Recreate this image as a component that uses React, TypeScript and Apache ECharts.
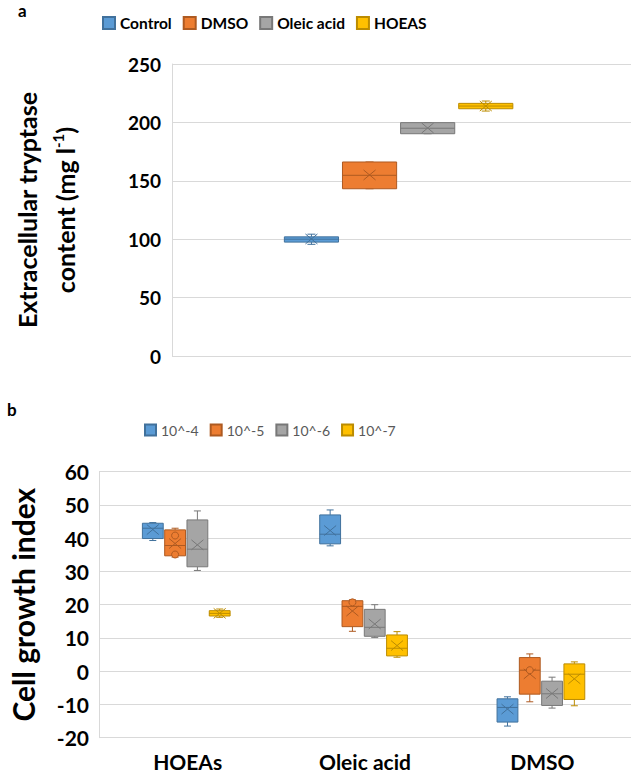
import React, { useEffect, useRef } from 'react';
import * as echarts from 'echarts';

// ---------- data ----------
// panel a: one box per treatment, [min, Q1, median, Q3, max, mean]
const treatmentNames = ['Control', 'DMSO', 'Oleic acid', 'HOEAS'];
const controlBox = [95.6, 97.5, 100.0, 102.0, 104.3, 100.2];
const dmsoBox = [143.2, 143.2, 154.7, 166.1, 166.1, 155.0];
const oleicBox = [190.3, 190.3, 195.0, 199.8, 199.8, 195.2];
const hoeasBox = [209.7, 211.7, 214.0, 216.3, 218.3, 214.0];
const tryptaseTicks = [0, 50, 100, 150, 200, 250];

// panel b: one series per concentration, one box per compound
const compoundCategories = ['HOEAs', 'Oleic acid', 'DMSO'];
const concentrationNames = ['10^-4', '10^-5', '10^-6', '10^-7'];
const conc4Boxes = [
  [39.3, 39.9, 43.0, 44.5, 44.7, 42.6],
  [37.7, 38.3, 41.2, 47.0, 48.5, 42.3],
  [-16.5, -15.3, -10.9, -8.3, -7.7, -11.4],
];
const conc5Boxes = [
  [34.3, 34.7, 37.8, 42.5, 43.0, 38.4],
  [12.0, 13.4, 19.5, 21.2, 21.5, 18.1],
  [-9.2, -6.9, 0.3, 4.1, 5.2, -0.8],
];
const conc6Boxes = [
  [30.3, 31.4, 36.7, 45.5, 48.2, 38.0],
  [10.1, 10.5, 13.2, 18.6, 20.0, 14.2],
  [-11.1, -10.3, -6.8, -3.0, -1.8, -6.7],
];
const conc7Boxes = [
  [16.2, 16.6, 17.4, 18.2, 18.7, 17.4],
  [4.2, 4.6, 6.9, 10.9, 11.9, 7.7],
  [-10.4, -8.5, -0.9, 2.2, 2.8, -2.3],
];
const conc5Points = [[40.8, 35.1], [20.7], [0.3]];
const noPoints = [[], [], []];
const growthTicks = [-20, -10, 0, 10, 20, 30, 40, 50, 60];

// ---------- styles ----------
const fills = ['#5B9BD5', '#ED7D31', '#A5A5A5', '#FFC000'];
const strokes = ['#41719C', '#AE5A21', '#787878', '#BC8C00'];
const FONT = 'Lato';

type Cfg = { step: number; width: number; shift: number; cap: number };
const cfgA: Cfg = { step: 0.1266, width: 0.118, shift: -0.0063, cap: 8 };
const cfgB: Cfg = { step: 0.1257, width: 0.1175, shift: -0.008, cap: 7 };

function makeRender(k: number, cfg: Cfg, pts: number[][]) {
  return (params: any, api: any) => {
    const cat = api.value(0);
    const band = api.size([1, 0])[0];
    const base = api.coord([cat, 0])[0];
    const cx = base + band * (cfg.shift + (k - 1.5) * cfg.step);
    const w = band * cfg.width;
    const y = (v: number) => api.coord([cat, v])[1];
    const yMin = y(api.value(1));
    const yQ1 = y(api.value(2));
    const yMed = y(api.value(3));
    const yQ3 = y(api.value(4));
    const yMax = y(api.value(5));
    const yMean = y(api.value(6));
    const stroke = strokes[k];
    const fill = fills[k];
    const ls = { stroke, lineWidth: 1, fill: 'none' };
    const hc = cfg.cap / 2;
    const children: any[] = [
      { type: 'line', shape: { x1: cx, y1: yMax, x2: cx, y2: yQ3 }, style: ls },
      { type: 'line', shape: { x1: cx - hc, y1: yMax, x2: cx + hc, y2: yMax }, style: ls },
      { type: 'line', shape: { x1: cx, y1: yMin, x2: cx, y2: yQ1 }, style: ls },
      { type: 'line', shape: { x1: cx - hc, y1: yMin, x2: cx + hc, y2: yMin }, style: ls },
      {
        type: 'rect',
        shape: { x: cx - w / 2, y: yQ3, width: w, height: yQ1 - yQ3 },
        style: { fill, stroke, lineWidth: 1 },
      },
      { type: 'line', shape: { x1: cx - w / 2, y1: yMed, x2: cx + w / 2, y2: yMed }, style: ls },
      { type: 'line', shape: { x1: cx - 6, y1: yMean - 5, x2: cx + 6, y2: yMean + 5 }, style: ls },
      { type: 'line', shape: { x1: cx - 6, y1: yMean + 5, x2: cx + 6, y2: yMean - 5 }, style: ls },
    ];
    (pts[params.dataIndex] || []).forEach((p) => {
      children.push({
        type: 'circle',
        shape: { cx, cy: y(p), r: 3.5 },
        style: { fill, stroke, lineWidth: 1 },
      });
    });
    return { type: 'group', children };
  };
}

export default function App() {
  const ref = useRef<HTMLDivElement>(null);
  useEffect(() => {
    document.body.style.margin = '0';
    const chart = echarts.init(ref.current!, null, { renderer: 'svg' });

    const topBoxes = [controlBox, dmsoBox, oleicBox, hoeasBox];
    const bottomBoxes = [conc4Boxes, conc5Boxes, conc6Boxes, conc7Boxes];
    const bottomPts = [noPoints, conc5Points, noPoints, noPoints];

    const topSeries = treatmentNames.map((name, k) => ({
      type: 'custom',
      name,
      xAxisIndex: 0,
      yAxisIndex: 0,
      itemStyle: { color: fills[k], borderColor: strokes[k], borderWidth: 1 },
      encode: { x: 0, y: [1, 2, 3, 4, 5] },
      data: [[0, ...topBoxes[k]]],
      renderItem: makeRender(k, cfgA, [[]]),
    }));
    const bottomSeries = concentrationNames.map((name, k) => ({
      type: 'custom',
      name,
      xAxisIndex: 1,
      yAxisIndex: 1,
      itemStyle: { color: fills[k], borderColor: strokes[k], borderWidth: 1 },
      encode: { x: 0, y: [1, 2, 3, 4, 5] },
      data: bottomBoxes[k].map((b, i) => [i, ...b]),
      renderItem: makeRender(k, cfgB, bottomPts[k]),
    }));

    const gridLine = { show: true, lineStyle: { color: '#D9D9D9', width: 1 } };

    chart.setOption({
      animation: false,
      backgroundColor: '#ffffff',
      title: [
        {
          text: 'a', left: 18, top: 2, padding: 0,
          textStyle: { fontFamily: FONT, fontSize: 17, fontWeight: 'bold', color: '#000' },
        },
        {
          text: 'b', left: 7, top: 401, padding: 0,
          textStyle: { fontFamily: FONT, fontSize: 17, fontWeight: 'bold', color: '#000' },
        },
      ],
      legend: [
        {
          data: treatmentNames,
          left: 102, top: 15, padding: 0,
          icon: 'rect', itemWidth: 12, itemHeight: 12, itemGap: 11,
          textStyle: { fontFamily: FONT, fontSize: 15.5, fontWeight: 'bold', color: '#000' },
        },
        {
          data: concentrationNames,
          left: 144, top: 423, padding: 0,
          icon: 'rect', itemWidth: 11, itemHeight: 11, itemGap: 11,
          textStyle: { fontFamily: FONT, fontSize: 14, color: '#595959' },
        },
      ],
      grid: [
        { left: 157, right: 0, top: 64, height: 292 },
        { left: 82, right: 0, top: 471.7, height: 266 },
      ],
      xAxis: [
        {
          type: 'category', gridIndex: 0, data: [''],
          axisLine: { show: false }, axisTick: { show: false }, axisLabel: { show: false },
        },
        {
          type: 'category', gridIndex: 1, data: compoundCategories,
          axisLine: { show: false }, axisTick: { show: false },
          axisLabel: { fontFamily: FONT, fontSize: 21, fontWeight: 'bold', color: '#000', margin: 13 },
        },
      ],
      yAxis: [
        {
          type: 'value', gridIndex: 0,
          min: tryptaseTicks[0], max: tryptaseTicks[tryptaseTicks.length - 1], interval: 50,
          axisLine: { show: true, lineStyle: { color: '#D9D9D9' } },
          axisTick: { show: false },
          splitLine: gridLine,
          axisLabel: { fontFamily: FONT, fontSize: 19, fontWeight: 'bold', color: '#000', margin: 11 },
          name: 'Extracellular tryptase\ncontent (mg l{sup|-1})',
          nameLocation: 'middle',
          nameRotate: 90,
          nameGap: 88,
          nameTextStyle: {
            fontFamily: FONT, fontSize: 25, fontWeight: 'bold', color: '#000', lineHeight: 38,
            rich: {
              sup: { fontFamily: FONT, fontSize: 15, fontWeight: 'bold', color: '#000', padding: [0, 0, 14, 0] },
            },
          },
        },
        {
          type: 'value', gridIndex: 1,
          min: growthTicks[0], max: growthTicks[growthTicks.length - 1], interval: 10,
          axisLine: { show: true, lineStyle: { color: '#D9D9D9' } },
          axisTick: { show: false },
          splitLine: gridLine,
          axisLabel: { fontFamily: FONT, fontSize: 21, fontWeight: 'bold', color: '#000', margin: 10 },
          name: 'Cell growth index',
          nameLocation: 'middle',
          nameRotate: 90,
          nameGap: 61,
          nameTextStyle: { fontFamily: FONT, fontSize: 30, fontWeight: 'bold', color: '#000' },
        },
      ],
      series: [...topSeries, ...bottomSeries],
    });
    return () => chart.dispose();
  }, []);
  return <div ref={ref} style={{ width: 631, height: 774 }} />;
}
